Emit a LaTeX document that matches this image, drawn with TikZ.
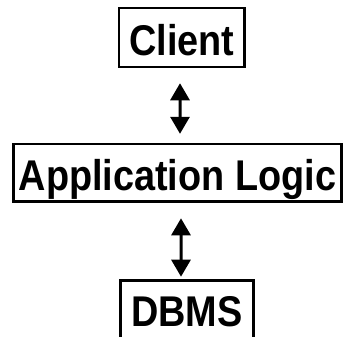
\documentclass[tikz,border=0pt]{standalone}
\usepackage{fontspec}
\setmainfont{Liberation Sans}
\usetikzlibrary{arrows.meta,calc}
% narrow bold label text
\newcommand\tierlabel[1]{\scalebox{0.88}[1]{\bfseries #1}}
\begin{document}
\begin{tikzpicture}[x=1bp,y=1bp,
  tier/.style={draw=black, line width=2.5bp, inner sep=0pt,
    font=\fontsize{43bp}{50bp}\selectfont, text height=35bp, text depth=0bp},
  link/.style={line width=3bp, {Triangle[width=19bp,length=17bp]}-{Triangle[width=19bp,length=17bp]}}]
  \useasboundingbox (0,0) rectangle (343,337);
  \node[tier, minimum width=125.7bp, minimum height=59bp] (client) at (181.8,299.5) {\tierlabel{Client}};
  \node[tier, minimum width=328bp, minimum height=57.3bp] (app) at (177.4,164.3) {\tierlabel{Application Logic}};
  \node[tier, minimum width=133bp, minimum height=57.3bp] (dbms) at (186.8,27.7) {\tierlabel{DBMS}};
  \draw[link] ($(client.south)+(-1.8,-15)$) -- ($(app.north)+(2.6,9)$);
  \draw[link] ($(app.south)+(3.6,-15.7)$) -- ($(dbms.north)+(-5.8,2.7)$);
\end{tikzpicture}
\end{document}
